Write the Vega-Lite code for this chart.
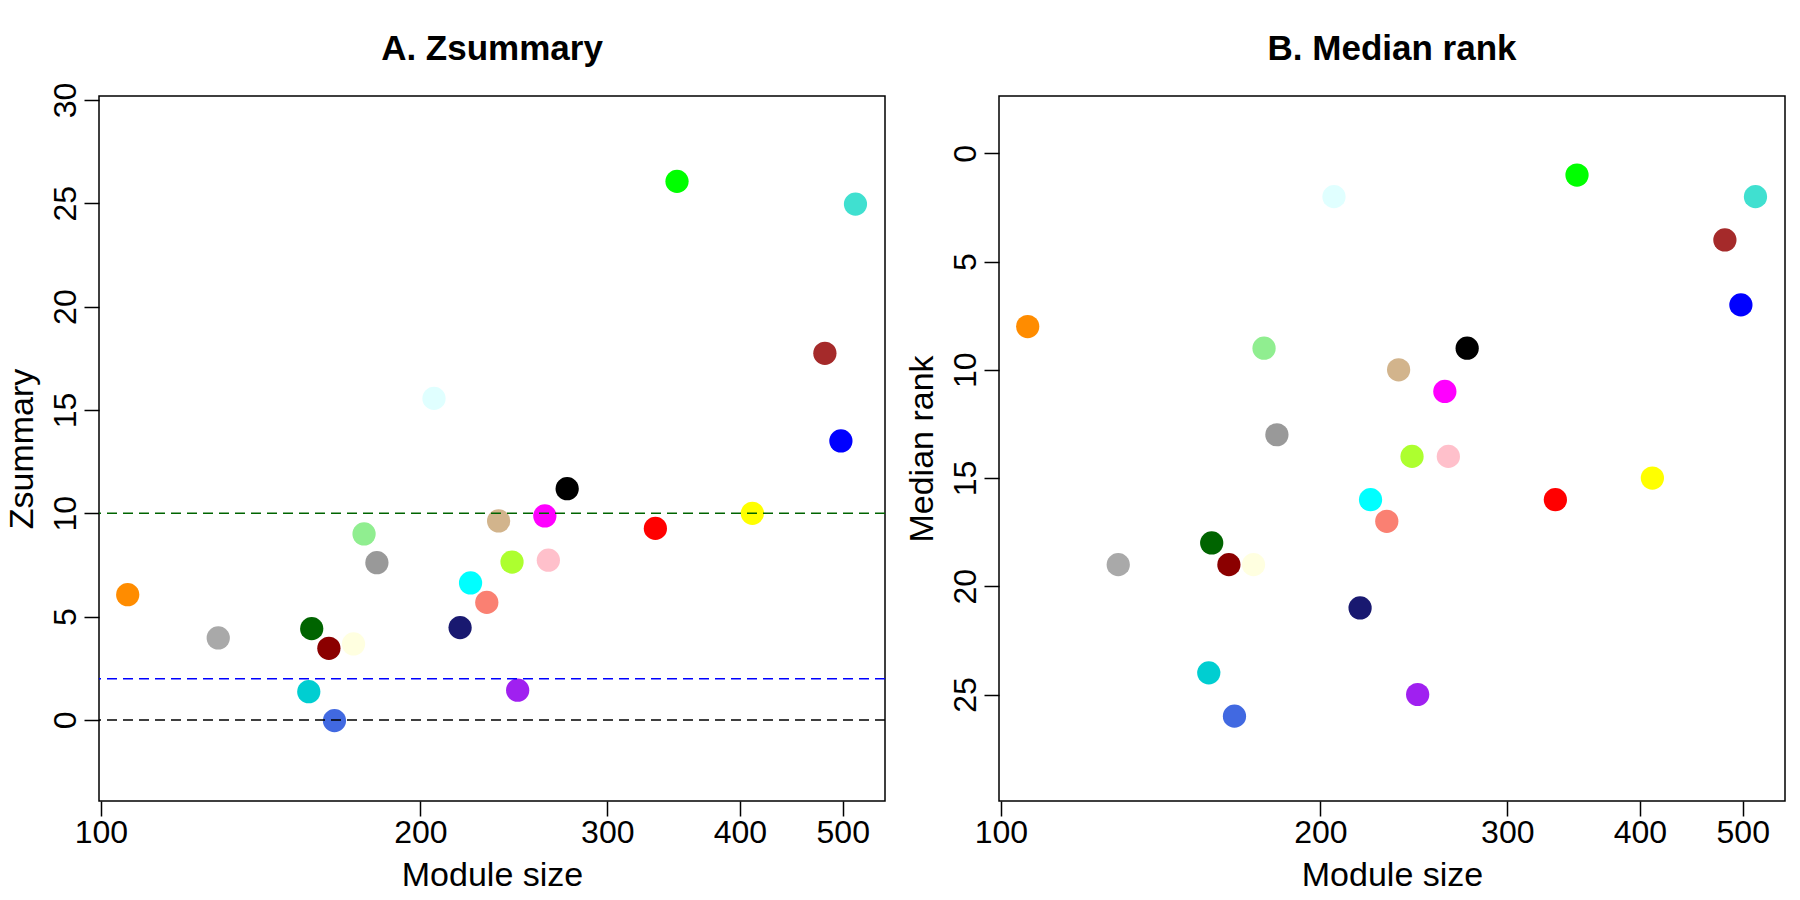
{
  "$schema": "https://vega.github.io/schema/vega-lite/v6.json",
  "padding": {"left": 4, "top": 30, "right": 5, "bottom": 5},
  "background": "white",
  "config": {
    "font": "Liberation Sans",
    "view": {"stroke": "black", "strokeWidth": 1.5},
    "axis": {"domain": false, "grid": false, "ticks": true, "tickColor": "black", "tickWidth": 1.5, "tickSize": 15, "labelFont": "Liberation Sans", "labelFontSize": 32, "labelColor": "black", "titleFont": "Liberation Sans", "titleFontSize": 34, "titleFontWeight": "normal", "titleColor": "black", "labelFlush": false, "labelOverlap": false},
    "axisX": {"labelBaseline": "alphabetic", "labelPadding": 26, "labelAngle": 0, "titleBaseline": "alphabetic", "titleY": 84},
    "axisY": {"labelAngle": 270, "labelAlign": "center", "labelBaseline": "alphabetic", "labelPadding": 9, "titleAngle": 270, "titleBaseline": "alphabetic", "titleAlign": "center", "titleX": -67, "titleY": 352.5},
    "title": {"font": "Liberation Sans", "fontSize": 35, "fontWeight": "bold", "color": "black", "baseline": "alphabetic", "frame": "group", "anchor": "middle"}
  },
  "datasets": {
    "modules": [
      {"module": "darkorange", "size": 106, "zsummary": 6.06, "medianRank": 8},
      {"module": "darkgrey", "size": 129, "zsummary": 3.97, "medianRank": 19},
      {"module": "darkturquoise", "size": 157, "zsummary": 1.37, "medianRank": 24},
      {"module": "darkgreen", "size": 158, "zsummary": 4.42, "medianRank": 18},
      {"module": "lightyellow", "size": 173, "zsummary": 3.68, "medianRank": 19},
      {"module": "darkred", "size": 164, "zsummary": 3.47, "medianRank": 19},
      {"module": "royalblue", "size": 166, "zsummary": -0.03, "medianRank": 26},
      {"module": "lightgreen", "size": 177, "zsummary": 9.0, "medianRank": 9},
      {"module": "grey60", "size": 182, "zsummary": 7.61, "medianRank": 13},
      {"module": "lightcyan", "size": 206, "zsummary": 15.56, "medianRank": 2},
      {"module": "midnightblue", "size": 218, "zsummary": 4.47, "medianRank": 21},
      {"module": "cyan", "size": 223, "zsummary": 6.63, "medianRank": 16},
      {"module": "salmon", "size": 231, "zsummary": 5.69, "medianRank": 17},
      {"module": "tan", "size": 237, "zsummary": 9.63, "medianRank": 10},
      {"module": "greenyellow", "size": 244, "zsummary": 7.64, "medianRank": 14},
      {"module": "purple", "size": 247, "zsummary": 1.44, "medianRank": 25},
      {"module": "magenta", "size": 262, "zsummary": 9.87, "medianRank": 11},
      {"module": "pink", "size": 264, "zsummary": 7.73, "medianRank": 14},
      {"module": "black", "size": 275, "zsummary": 11.19, "medianRank": 9},
      {"module": "red", "size": 333, "zsummary": 9.27, "medianRank": 16},
      {"module": "green", "size": 349, "zsummary": 26.06, "medianRank": 1},
      {"module": "yellow", "size": 411, "zsummary": 10.0, "medianRank": 15},
      {"module": "brown", "size": 481, "zsummary": 17.74, "medianRank": 4},
      {"module": "blue", "size": 498, "zsummary": 13.5, "medianRank": 7},
      {"module": "turquoise", "size": 514, "zsummary": 24.96, "medianRank": 2}
    ]
  },
  "spacing": 114,
  "bounds": "flush",
  "hconcat": [
    {
      "width": 786,
      "height": 705,
      "title": {"text": "A. Zsummary", "offset": 15.3},
      "layer": [
        {
          "data": {"name": "modules"},
          "mark": {"type": "circle", "size": 540, "opacity": 1},
          "encoding": {
            "x": {"field": "size", "type": "quantitative", "scale": {"type": "log", "domain": [99.6, 548], "nice": false, "zero": false}, "axis": {"values": [100, 200, 300, 400, 500], "format": "d", "title": "Module size"}},
            "y": {"field": "zsummary", "type": "quantitative", "scale": {"domain": [-3.92, 30.19], "nice": false, "zero": false}, "axis": {"values": [0, 5, 10, 15, 20, 25, 30], "title": "Zsummary"}},
            "color": {"field": "module", "type": "nominal", "legend": null,
              "scale": {
                "domain": ["darkorange", "darkgrey", "darkturquoise", "darkgreen", "lightyellow", "darkred", "royalblue", "lightgreen", "grey60", "lightcyan", "midnightblue", "cyan", "salmon", "tan", "greenyellow", "purple", "magenta", "pink", "black", "red", "green", "yellow", "brown", "blue", "turquoise"],
                "range": ["#FF8C00", "#A9A9A9", "#00CED1", "#006400", "#FFFFE0", "#8B0000", "#4169E1", "#90EE90", "#999999", "#E0FFFF", "#191970", "#00FFFF", "#FA8072", "#D2B48C", "#ADFF2F", "#A020F0", "#FF00FF", "#FFC0CB", "#000000", "#FF0000", "#00FF00", "#FFFF00", "#A52A2A", "#0000FF", "#40E0D0"]
              }}
          }
        },
        {
          "data": {"values": [{"threshold": 0}]},
          "mark": {"type": "rule", "color": "black", "strokeDash": [10, 6], "strokeWidth": 1.5},
          "encoding": {"y": {"field": "threshold", "type": "quantitative"}}
        },
        {
          "data": {"values": [{"threshold": 2}]},
          "mark": {"type": "rule", "color": "#0000FF", "strokeDash": [10, 6], "strokeWidth": 1.5},
          "encoding": {"y": {"field": "threshold", "type": "quantitative"}}
        },
        {
          "data": {"values": [{"threshold": 10}]},
          "mark": {"type": "rule", "color": "#006400", "strokeDash": [10, 6], "strokeWidth": 1.5},
          "encoding": {"y": {"field": "threshold", "type": "quantitative"}}
        }
      ]
    },
    {
      "width": 786,
      "height": 705,
      "title": {"text": "B. Median rank", "offset": 29.3},
      "data": {"name": "modules"},
      "mark": {"type": "circle", "size": 540, "opacity": 1},
      "encoding": {
        "x": {"field": "size", "type": "quantitative", "scale": {"type": "log", "domain": [99.6, 548], "nice": false, "zero": false}, "axis": {"values": [100, 200, 300, 400, 500], "format": "d", "title": "Module size"}},
        "y": {"field": "medianRank", "type": "quantitative", "scale": {"domain": [-2.65, 29.92], "reverse": true, "nice": false, "zero": false}, "axis": {"values": [0, 5, 10, 15, 20, 25], "title": "Median rank"}},
        "color": {"field": "module", "type": "nominal", "legend": null,
          "scale": {
            "domain": ["darkorange", "darkgrey", "darkturquoise", "darkgreen", "lightyellow", "darkred", "royalblue", "lightgreen", "grey60", "lightcyan", "midnightblue", "cyan", "salmon", "tan", "greenyellow", "purple", "magenta", "pink", "black", "red", "green", "yellow", "brown", "blue", "turquoise"],
            "range": ["#FF8C00", "#A9A9A9", "#00CED1", "#006400", "#FFFFE0", "#8B0000", "#4169E1", "#90EE90", "#999999", "#E0FFFF", "#191970", "#00FFFF", "#FA8072", "#D2B48C", "#ADFF2F", "#A020F0", "#FF00FF", "#FFC0CB", "#000000", "#FF0000", "#00FF00", "#FFFF00", "#A52A2A", "#0000FF", "#40E0D0"]
          }}
      }
    }
  ]
}
